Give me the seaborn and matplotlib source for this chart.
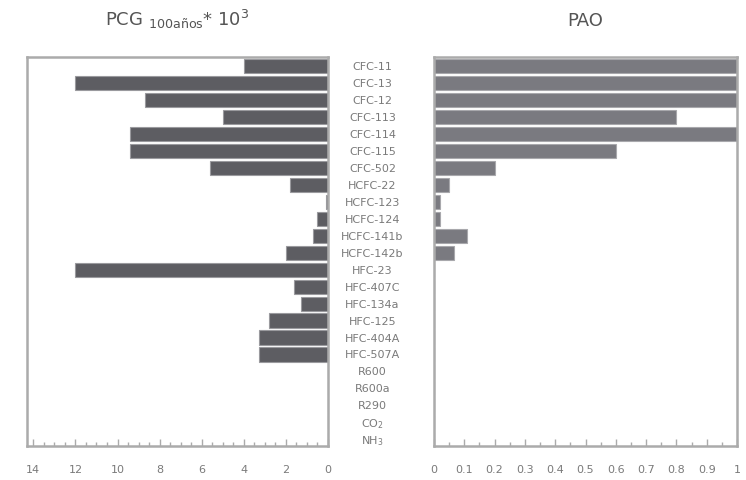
import matplotlib.pyplot as plt
import seaborn as sns
import pandas as pd
from matplotlib.ticker import MultipleLocator

# refrigerants, top to bottom
refrigerantes = ['CFC-11', 'CFC-13', 'CFC-12', 'CFC-113', 'CFC-114', 'CFC-115', 'CFC-502',
                 'HCFC-22', 'HCFC-123', 'HCFC-124', 'HCFC-141b', 'HCFC-142b',
                 'HFC-23', 'HFC-407C', 'HFC-134a', 'HFC-125', 'HFC-404A', 'HFC-507A',
                 'R600', 'R600a', 'R290', 'CO$_2$', 'NH$_3$']
# global warming potential (100 years, x 10^3)
pcg = [4.0, 12.0, 8.7, 5.0, 9.4, 9.4, 5.6,
       1.8, 0.1, 0.5, 0.7, 2.0,
       12.0, 1.6, 1.3, 2.8, 3.3, 3.3,
       0, 0, 0, 0, 0]
# ozone depletion potential
pao = [1.0, 1.0, 1.0, 0.8, 1.0, 0.6, 0.2,
       0.05, 0.02, 0.02, 0.11, 0.065,
       0, 0, 0, 0, 0, 0,
       0, 0, 0, 0, 0]

df = pd.DataFrame({'ref': refrigerantes, 'pcg': pcg, 'pao': pao})

sns.set_style("white")
plt.rcParams['font.family'] = ['DejaVu Sans']

fig = plt.figure(figsize=(7.46, 4.80), dpi=100)
ax1 = fig.add_axes([27 / 746, 34 / 480, 301 / 746, 389 / 480])
ax2 = fig.add_axes([434 / 746, 34 / 480, 303 / 746, 389 / 480])

spine_col = '#ababab'
text_col = '#7a7a7a'

sns.barplot(data=df, x='pcg', y='ref', ax=ax1, color='#5d5d62', width=0.84,
            edgecolor='#9a9a9e', linewidth=0.8, saturation=1)
sns.barplot(data=df, x='pao', y='ref', ax=ax2, color='#7a7a80', width=0.84,
            edgecolor='#a8a8ac', linewidth=0.8, saturation=1)

ax1.set_xlim(14.3, 0)
ax2.set_xlim(0, 1.0)
for ax in (ax1, ax2):
    ax.set_ylim(22.4, -0.55)
    ax.set_xlabel('')
    ax.set_ylabel('')
    for s in ax.spines.values():
        s.set_color(spine_col)
        s.set_linewidth(1.8)
    ax.tick_params(axis='x', which='both', direction='in', bottom=True,
                   colors=spine_col, labelcolor=text_col, labelsize=8)
    ax.tick_params(axis='x', which='major', length=5, width=1, pad=14)
    ax.tick_params(axis='x', which='minor', length=3, width=1)

ax1.xaxis.set_major_locator(MultipleLocator(2))
ax1.xaxis.set_minor_locator(MultipleLocator(0.5))
ax2.set_xticks([i / 10 for i in range(11)])
ax2.set_xticklabels(['0'] + [f'{i / 10:.1f}' for i in range(1, 10)] + ['1'])
ax2.xaxis.set_minor_locator(MultipleLocator(0.05))

# category labels sit between the two panels
ax1.yaxis.tick_right()
ax1.tick_params(axis='y', length=0, pad=32, labelsize=8, labelcolor=text_col)
for lbl in ax1.get_yticklabels():
    lbl.set_horizontalalignment('center')
ax2.tick_params(axis='y', length=0, labelleft=False)

ax1.set_title(r'PCG $_{\mathregular{100años}}$* 10$^{\mathregular{3}}$',
              fontsize=13, color='#555555', pad=22)
ax2.set_title('PAO', fontsize=13, color='#555555', pad=22)

fig.savefig('out.png', dpi=100, facecolor='white')
